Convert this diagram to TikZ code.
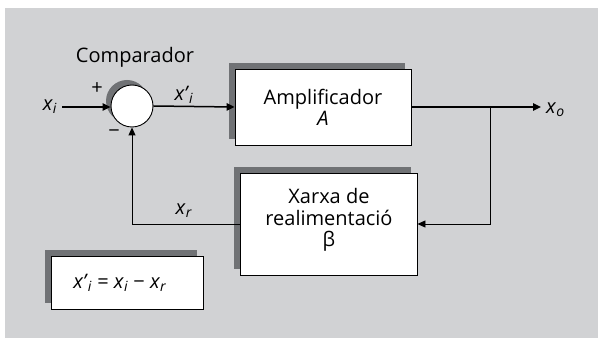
\documentclass[tikz,border=0pt]{standalone}
\usepackage{fontspec}
\setmainfont{Open Sans}
\usetikzlibrary{arrows.meta,shadows}
\definecolor{bggray}{RGB}{209,210,212}
\definecolor{shadowgray}{RGB}{112,114,117}
\begin{document}
\begin{tikzpicture}[x=1pt,y=-1pt,
  every node/.style={font=\fontsize{20}{23}\selectfont},
  box/.style={draw=black,line width=0.9pt,fill=white,inner sep=0pt,align=center,
    general shadow={fill=shadowgray,shadow xshift=-6pt,shadow yshift=6pt}},
  fwd/.style={line width=1.5pt,-{Triangle[length=8pt,width=7.5pt]}},
  fbk/.style={line width=0.9pt,-{Triangle[length=8pt,width=7pt]}},
  lbl/.style={inner sep=0pt}]
\useasboundingbox (0,0) rectangle (598,339);
\fill[bggray] (5,8) rectangle (598,338);
% comparator
\node[circle,draw=black,line width=0.9pt,fill=white,minimum size=42pt,inner sep=0pt,
  general shadow={fill=shadowgray,shadow xshift=-5pt,shadow yshift=5pt}] (cmp) at (132,106) {};
\node[lbl] (cmplbl) at (135,57) {Comparador};
\node[lbl] (plus) at (97,89) {+};
\node[lbl] (minus) at (114,134) {−};
% blocks
\node[box,minimum width=176pt,minimum height=76pt] (amp) at (323,107) {Amplificador\\[-2pt]\textit{A}};
\node[box,minimum width=177pt,minimum height=102pt] (fb) at (328.5,224) {};
\node[lbl,align=center] (fbtext) at (329,220) {Xarxa de\\[-1pt]realimentació\\[-2pt]β};
\node[box,minimum width=152pt,minimum height=53pt] (eq) at (127,282.5) {\textit{x’}\textsubscript{\textit{i}} = \textit{x}\textsubscript{\textit{i}} − \textit{x}\textsubscript{\textit{r}}\hspace{14pt}};
% signal labels
\node[lbl] (xi) at (50,107) {\textit{x}\textsubscript{\textit{i}}};
\node[lbl] (xip) at (184,95) {\textit{x’}\textsubscript{\textit{i}}};
\node[lbl,anchor=west] (xo) at (546,110) {\textit{x}\textsubscript{\textit{o}}};
\node[lbl] (xr) at (184,211) {\textit{x}\textsubscript{\textit{r}}};
\coordinate (outc) at (541,107);
\coordinate (j) at (490,107);
% connectors
\draw[fwd] (xi.east) ++(5pt,0) coordinate (xis) (xis) -- (xis -| cmp.west);
\draw[fwd] (cmp.east) -- (amp.west);
\draw[fwd] (amp.east) -- (outc);
\draw[fbk] (j) |- (fb.east);
\draw[fbk] (fb.west) -| (cmp.south);
\end{tikzpicture}
\end{document}
